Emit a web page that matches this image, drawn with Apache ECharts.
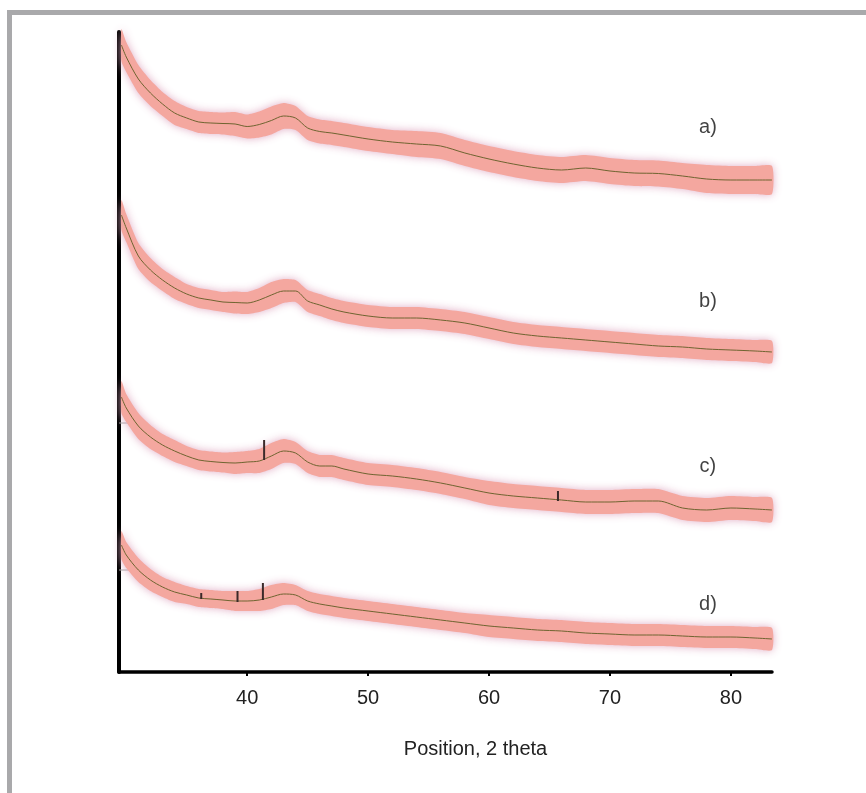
<!DOCTYPE html>
<html>
<head>
<meta charset="utf-8">
<script src="https://cdn.jsdelivr.net/npm/echarts@6/dist/echarts.min.js"></script>
<style>
html,body{margin:0;padding:0;background:#fff;}
#chart{width:866px;height:793px;}
</style>
</head>
<body>
<div id="chart"></div>
<script>
// 2-theta positions (degrees)
const xPos = [29.6, 30, 31, 32, 33, 34, 35, 36, 37, 38, 39, 40, 41, 42, 43, 44, 45, 46, 47, 48,
  50, 52, 54, 56, 58, 60, 62, 64, 66, 68, 70, 72, 74, 76, 78, 80, 82, 83.4];
// smoothed intensities (stacked offsets, arbitrary units)
const traceA = [627, 615, 593, 579, 568, 559, 554, 550, 549, 548.5, 548, 545.5, 547.5, 551.5, 556, 554, 544, 540.5, 539, 537,
  533, 530, 528, 526, 519, 513, 508, 504, 502, 504, 501, 499, 498.5, 496, 493, 492, 492, 492];
const traceB = [457, 444, 416, 402, 392, 384, 378, 374, 372, 370, 369.5, 369, 372, 377, 381, 381, 371, 367, 363, 360,
  356, 354, 354, 352, 349, 344, 339, 336, 334, 332, 330, 328, 326, 325, 323, 322, 321, 320];
const traceC = [275, 264, 246, 235, 227, 221, 216, 212, 210.5, 209.5, 209, 210, 211, 216, 221, 219, 210, 206, 206, 203,
  198, 196, 193, 189, 184, 179, 176, 174, 172, 170, 170, 171, 171, 164, 162, 164, 163, 162];
const traceD = [127, 117, 102, 92, 85, 80, 77, 74, 73, 72, 71, 71, 72, 75, 78, 77, 71, 68, 66, 64,
  61, 58, 55, 52, 49, 46, 44, 42, 41, 39, 38, 37, 37, 36, 35, 35, 34, 33];
// half-width of the dense noise band of the raw data
const noiseA = [16, 15, 14, 13, 12, 12, 11, 11, 11, 11, 12, 12, 13, 14, 13, 12, 12, 12, 12, 12,
  12, 12, 13, 13, 13, 13, 13, 13, 13, 13, 13, 13, 13, 13, 14, 14, 14, 14];
const noiseB = [15, 14, 13, 12, 11, 11, 10, 10, 10, 10, 11, 11, 12, 13, 12, 11, 11, 11, 11, 11,
  11, 11, 11, 11, 11, 11, 11, 11, 11, 11, 11, 11, 11, 11, 11, 11, 11, 11];
const noiseC = [16, 14, 13, 12, 11, 11, 10, 10, 10, 10, 11, 11, 12, 13, 12, 11, 11, 11, 11, 11,
  11, 11, 11, 11, 11, 12, 12, 12, 12, 12, 12, 12, 12, 12, 12, 12, 12, 12];
const noiseD = [14, 13, 12, 11, 10, 10, 9, 9, 9, 9, 10, 10, 11, 12, 11, 10, 10, 10, 10, 10,
  10, 10, 10, 10, 10, 11, 11, 11, 11, 11, 11, 11, 11, 11, 11, 11, 11, 11];
// reference peak sticks: [position, bottom, top]
const peaksC = [[41.4, 212, 232], [65.7, 171, 181]];
const peaksD = [[36.2, 73, 79], [39.2, 70, 81], [41.3, 72, 89]];
// baseline stubs at the left of c and d
const baseC = 249;
const baseD = 102;
const traceNames = ['a)', 'b)', 'c)', 'd)'];
const xTicks = [40, 50, 60, 70, 80];

const traces = [
  {s: traceA, n: noiseA},
  {s: traceB, n: noiseB},
  {s: traceC, n: noiseC},
  {s: traceD, n: noiseD}
];
const labelAnchorX = 78.1;
const labelAnchorY = [545, 371, 206, 68];
const FONT = 'Liberation Sans, Arial, Helvetica, sans-serif';

function bandSeries(tr) {
  const pts = xPos.map((x, i) => [x, tr.s[i] - tr.n[i], tr.s[i] + tr.n[i]]);
  return {
    type: 'custom',
    silent: true,
    z: 2,
    data: pts,
    encode: {x: 0, y: [1, 2]},
    renderItem: function (params, api) {
      if (params.dataIndex !== 0) return null;
      const upper = pts.map(p => api.coord([p[0], p[2]]));
      const lower = pts.map(p => api.coord([p[0], p[1]])).reverse();
      return {
        type: 'polygon',
        shape: {points: upper.concat(lower), smooth: 0.2},
        style: {
          fill: '#f4a79f',
          shadowBlur: 8,
          shadowColor: 'rgba(222,165,192,0.9)'
        }
      };
    }
  };
}

function lineSeries(tr) {
  return {
    type: 'line',
    z: 3,
    silent: true,
    showSymbol: false,
    smooth: 0.3,
    data: xPos.map((x, i) => [x, tr.s[i]]),
    lineStyle: {color: '#6f6430', width: 1}
  };
}

function stickSeries(peaks) {
  return {
    type: 'custom',
    z: 4,
    silent: true,
    data: peaks,
    encode: {x: 0, y: [1, 2]},
    renderItem: function (params, api) {
      const p0 = api.coord([api.value(0), api.value(1)]);
      const p1 = api.coord([api.value(0), api.value(2)]);
      return {
        type: 'line',
        shape: {x1: p0[0], y1: p0[1], x2: p1[0], y2: p1[1]},
        style: {stroke: '#3b2a2a', lineWidth: 2}
      };
    }
  };
}

const series = [];
traces.forEach(tr => series.push(bandSeries(tr)));
traces.forEach(tr => series.push(lineSeries(tr)));
series.push(stickSeries(peaksC));
series.push(stickSeries(peaksD));
[baseC, baseD].forEach(b => series.push({
  type: 'line', z: 1, silent: true, showSymbol: false,
  data: [[29.4, b], [30.7, b]],
  lineStyle: {color: '#a0a0a0', width: 1}
}));
series.push({
  type: 'scatter',
  z: 5,
  silent: true,
  symbolSize: 1,
  itemStyle: {color: 'rgba(255,255,255,0)'},
  data: traceNames.map((nm, i) => ({name: nm, value: [labelAnchorX, labelAnchorY[i]]})),
  label: {
    show: true, position: 'inside', formatter: '{b}',
    fontFamily: FONT, fontSize: 20, color: '#111111', textBorderWidth: 0
  }
});

const chart = echarts.init(document.getElementById('chart'), null, {renderer: 'canvas'});
chart.setOption({
  animation: false,
  backgroundColor: '#ffffff',
  grid: {left: 119, right: 94, top: 32, bottom: 121, containLabel: false},
  xAxis: {
    type: 'value',
    min: 29.4,
    max: 83.4,
    name: 'Position, 2 theta',
    nameLocation: 'middle',
    nameGap: 67,
    nameTextStyle: {fontFamily: FONT, fontSize: 20, color: '#222222', padding: [0, 0, 0, 60]},
    axisLine: {show: true, onZero: false, lineStyle: {color: '#000', width: 3.5}},
    axisTick: {show: true, customValues: xTicks, length: 4, lineStyle: {color: '#000', width: 2}},
    axisLabel: {customValues: xTicks, margin: 16, fontFamily: FONT, fontSize: 20, color: '#222222'},
    splitLine: {show: false}
  },
  yAxis: {
    type: 'value',
    min: 0,
    max: 640,
    axisLine: {show: true, onZero: false, lineStyle: {color: '#000', width: 4}},
    axisTick: {show: false},
    axisLabel: {show: false},
    splitLine: {show: false}
  },
  graphic: [{
    type: 'rect',
    silent: true,
    shape: {x: 9.5, y: 12.5, width: 900, height: 900},
    style: {fill: 'none', stroke: '#a9a9ab', lineWidth: 5}
  }],
  series: series
});
</script>
</body>
</html>
